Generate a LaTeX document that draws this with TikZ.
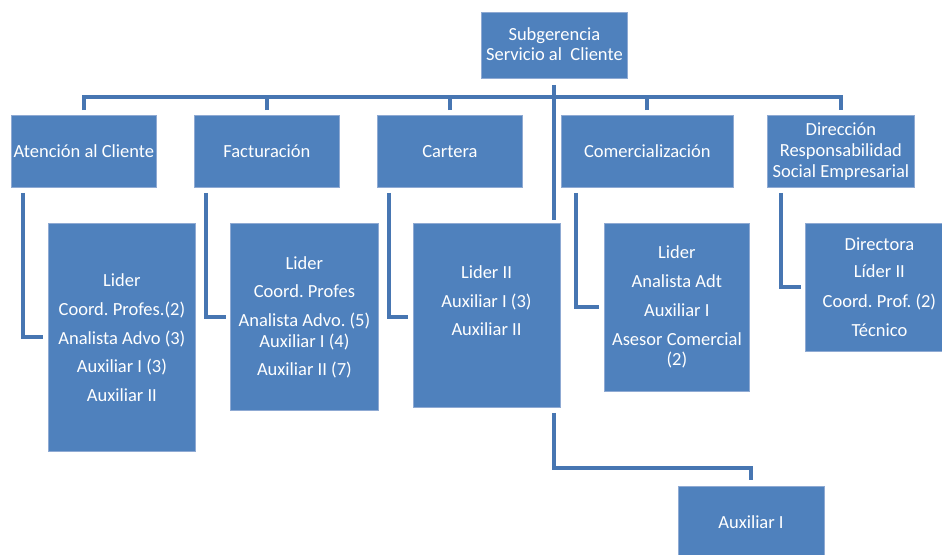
\documentclass[tikz,border=0pt]{standalone}
\usepackage{fontspec}
\setmainfont{Carlito}
\usetikzlibrary{calc}
\frenchspacing
\definecolor{boxfill}{HTML}{4F81BD}
\definecolor{boxedge}{HTML}{8FAAD3}
\definecolor{connblue}{HTML}{4776B2}
\begin{document}
\begin{tikzpicture}[x=1pt,y=-1pt,
  box/.style={draw=boxedge, line width=0.8pt, fill=boxfill, inner sep=0pt, anchor=north west},
  lbl/.style={text=white, font=\fontsize{18.5}{20}\selectfont\frenchspacing, align=center, inner sep=0pt},
  conn/.style={draw=connblue, line width=4pt}]
\useasboundingbox (0,0) rectangle (942,554);
% top
\node[box, minimum width=146pt, minimum height=66pt] (top) at (481,12) {};
% second row
\node[box, minimum width=145pt, minimum height=72pt] (a) at (11,115) {};
\node[box, minimum width=145pt, minimum height=72pt] (f) at (194,115) {};
\node[box, minimum width=145pt, minimum height=72pt] (c) at (377,115) {};
\node[box, minimum width=172pt, minimum height=72pt] (com) at (561,115) {};
\node[box, minimum width=147pt, minimum height=72pt] (d) at (767,115) {};
% third row
\node[box, minimum width=147pt, minimum height=228pt] (b1) at (48,223) {};
\node[box, minimum width=148pt, minimum height=187pt] (b2) at (230,223) {};
\node[box, minimum width=147pt, minimum height=184pt] (b3) at (413,223) {};
\node[box, minimum width=145pt, minimum height=168pt] (b4) at (604,223) {};
\node[box, minimum width=148pt, minimum height=128pt] (b5) at (805,223) {};
\node[box, minimum width=146pt, minimum height=80pt] (aux) at (678,486) {};
% labels
\node[lbl] (topt) at ($(top.center)+(0,-1)$) {Subgerencia\\Servicio al\ \ Cliente};
\node[lbl] (at) at (a.center) {Atención al Cliente};
\node[lbl] (ft) at (f.center) {Facturación};
\node[lbl] (ct) at (c.center) {Cartera};
\node[lbl] (comt) at (com.center) {Comercialización};
\node[lbl] (dt) at (d.center) {Dirección\\[1pt]Responsabilidad\\[1pt]Social Empresarial};
\node[lbl] (b1t) at ($(b1.center)+(0,0)$) {Lider\\[9pt]Coord. Profes.(2)\\[9pt]Analista Advo (3)\\[8pt]Auxiliar I (3)\\[9pt]Auxiliar II};
\node[lbl] (b2t) at ($(b2.center)+(0,0)$) {Lider\\[8pt]Coord. Profes\\[9pt]Analista Advo. (5)\\[1pt]Auxiliar I (4)\\[8pt]Auxiliar II (7)};
\node[lbl] (b3t) at (486.5,301) {Lider II\\[9pt]Auxiliar I (3)\\[8pt]Auxiliar II};
\node[lbl] (b4t) at ($(b4.center)+(0,-1)$) {Lider\\[9pt]Analista Adt\\[9pt]Auxiliar I\\[9pt]Asesor Comercial\\(2)};
\node[lbl] (b5t) at ($(b5.center)+(0,0)$) {Directora\\[7pt]Líder II\\[10pt]Coord. Prof. (2)\\[9pt]Técnico};
\node[lbl] (auxt) at (751,522) {Auxiliar I};
% connectors
\draw[conn] ($(top.south)+(0,6)$) -- ($(top.south |- b3.north)+(0,-3)$);
\draw[conn] ($(a.north)+(0,-5)$) -- ($(a.north)+(0,-18)$) -- ($(d.north)+(0,-18)$) -- ($(d.north)+(0,-5)$);
\draw[conn] ($(f.north)+(0,-5)$) -- ($(f.north)+(0,-18)$);
\draw[conn] ($(c.north)+(0,-5)$) -- ($(c.north)+(0,-18)$);
\draw[conn] ($(com.north)+(0,-5)$) -- ($(com.north)+(0,-18)$);
\draw[conn] ($(a.south west)+(12,5)$) |- ($(b1.west)+(-5,0)$);
\draw[conn] ($(f.south west)+(12,5)$) |- ($(b2.west)+(-4,0)$);
\draw[conn] ($(c.south west)+(12,5)$) |- ($(b3.west)+(-5,2)$);
\draw[conn] ($(com.south west)+(15,5)$) |- ($(b4.west)+(-5,0)$);
\draw[conn] ($(d.south west)+(14,5)$) |- ($(b5.west)+(-4,0)$);
\draw[conn] ($(top.south |- b3.south)+(0,5)$) -- ($(top.south |- b3.south)+(0,60)$) -| ($(aux.north)+(0,-6)$);
\end{tikzpicture}
\end{document}
